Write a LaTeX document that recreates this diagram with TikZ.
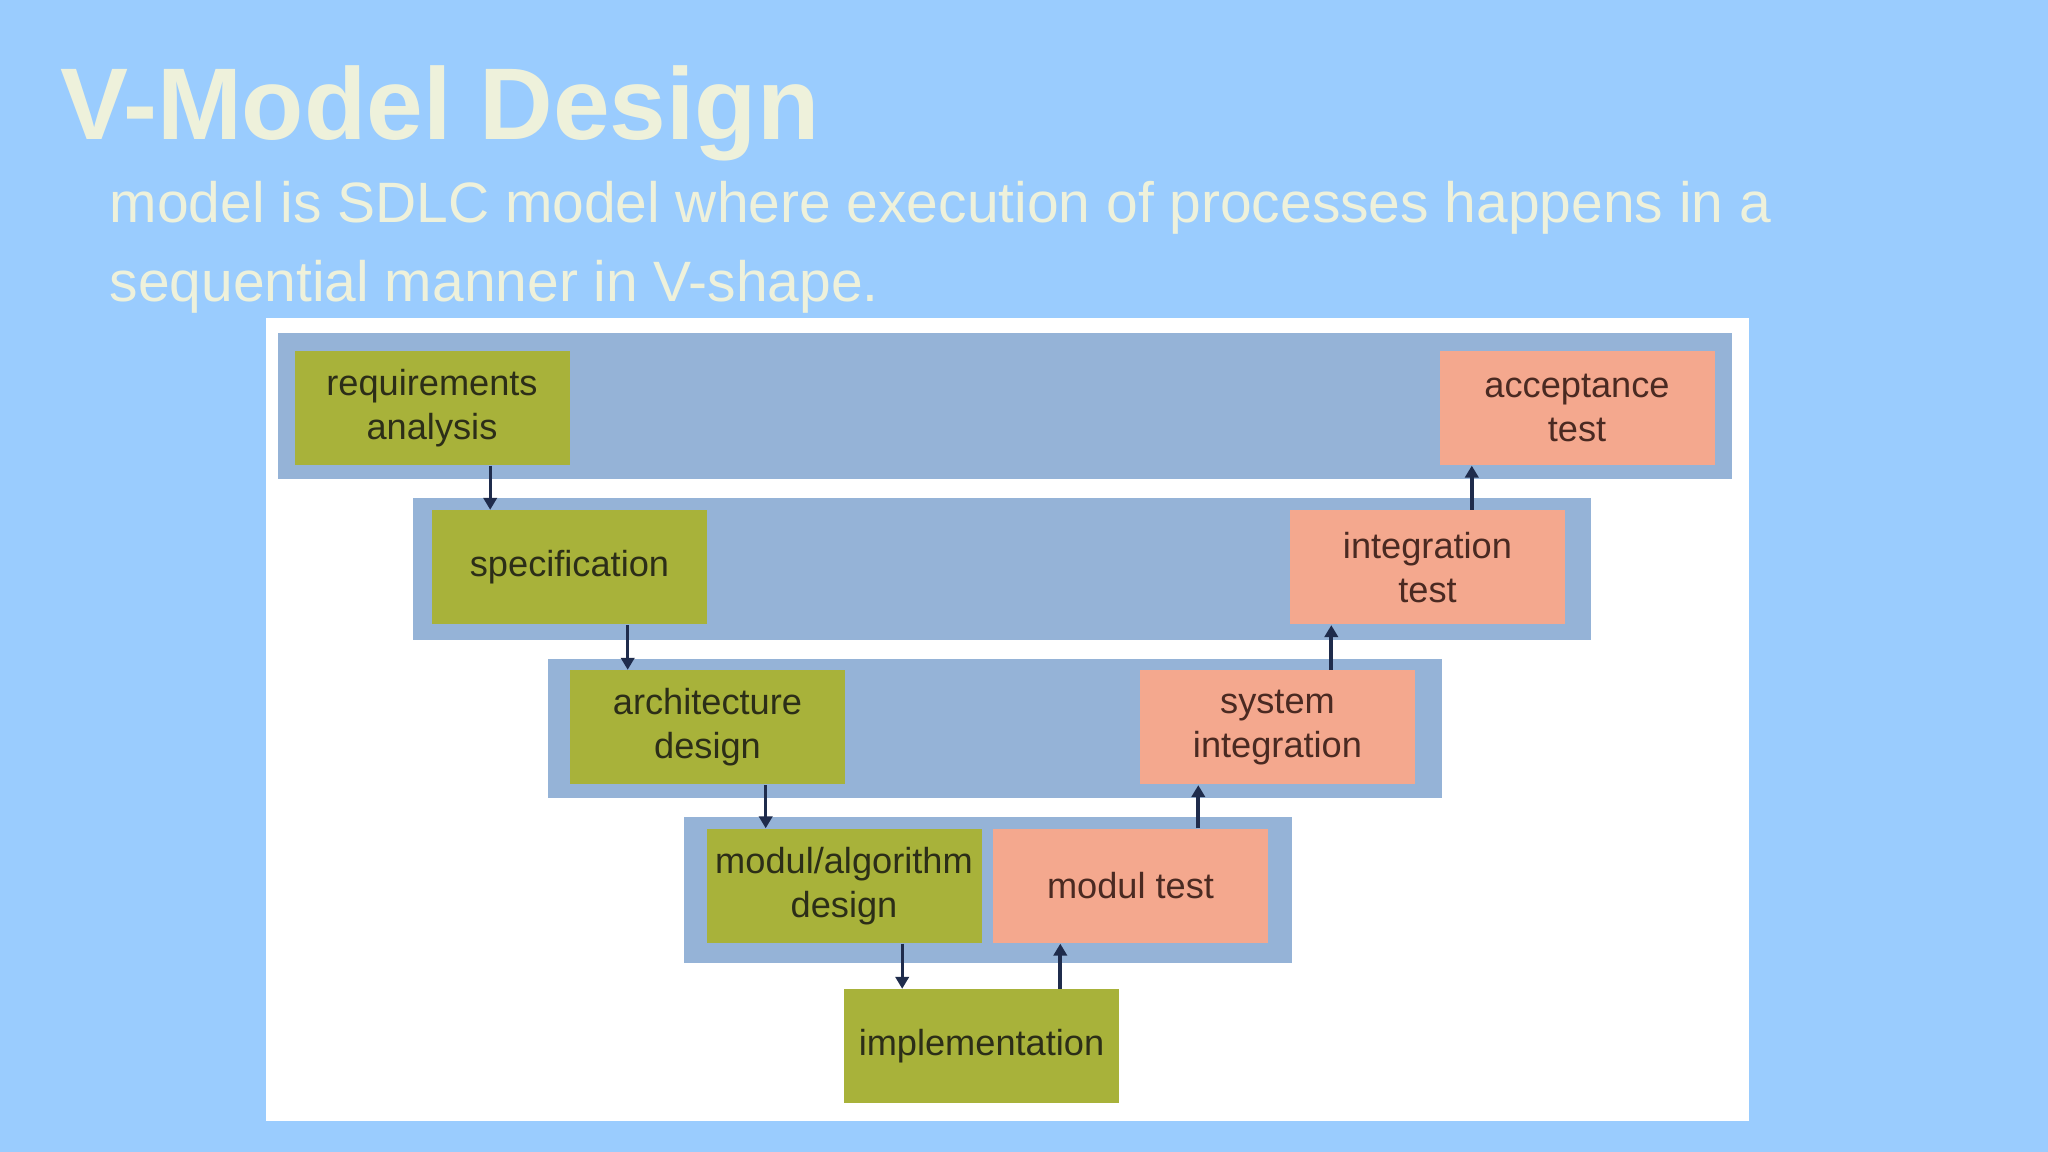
\documentclass[tikz,border=0pt]{standalone}
\usepackage{xcolor}
\usepackage{fontspec}
\setmainfont{Liberation Sans}
\usepackage{tikz}
\usetikzlibrary{positioning,calc,arrows.meta}

\definecolor{slidebg}{HTML}{9ACCFE}
\definecolor{titlecream}{HTML}{EEF1DB}
\definecolor{vband}{HTML}{95B3D7}
\definecolor{vgreen}{HTML}{A8B23A}
\definecolor{vsalmon}{HTML}{F4A88E}
\definecolor{greentext}{HTML}{2C2E18}
\definecolor{salmontext}{HTML}{4A2A22}
\definecolor{arrowblue}{HTML}{1F2C4C}

\begin{document}
\begin{tikzpicture}[
    box/.style={minimum width=2.75cm, minimum height=1.14cm, inner sep=0pt, align=center,
                font=\fontsize{10.3}{12.5}\selectfont},
    designbox/.style={box, fill=vgreen, text=greentext},
    testbox/.style={box, fill=vsalmon, text=salmontext},
    band/.style={fill=vband},
    downarr/.style={draw=arrowblue, line width=0.8pt, -{Triangle[length=3.4pt,width=3.8pt]}},
    uparr/.style={draw=arrowblue, line width=1.1pt, -{Triangle[length=3.4pt,width=3.8pt]}},
    slidetxt/.style={text=titlecream, inner sep=0pt, anchor=base west}
]
        \useasboundingbox (0,0) rectangle (20.48,11.52);
        \fill[slidebg] (0,0) rectangle (20.48,11.52);

        % Heading
        \node[slidetxt, font=\fontsize{29}{34}\selectfont\bfseries] (title) at (0.60,10.12) {V-Model Design};
        \node[slidetxt, font=\fontsize{16.2}{22}\selectfont] (sub1) at (1.09,9.29)
            {model is SDLC model where execution of processes happens in a};
        \node[slidetxt, font=\fontsize{16.2}{22}\selectfont] (sub2) at (1.09,8.50)
            {sequential manner in V-shape.};

        % Picture panel
        \fill[white] (2.66,0.31) rectangle (17.49,8.34);

        % Levels of the V
        \fill[band] (2.78,6.73) rectangle (17.32,8.19);
        \fill[band] (4.13,5.12) rectangle (15.91,6.54);
        \fill[band] (5.48,3.54) rectangle (14.42,4.93);
        \fill[band] (6.84,1.89) rectangle (12.92,3.35);

        % Left branch
        \node[designbox] (req)  at (4.32,7.44)  {requirements\\analysis};
        \node[designbox] (spec) at (5.695,5.845) {specification};
        \node[designbox] (arch) at (7.075,4.245) {architecture\\design};
        \node[designbox] (mdes) at (8.44,2.66)  {modul/algorithm\\design};
        \node[designbox] (impl) at (9.815,1.055) {implementation};

        % Right branch
        \node[testbox] (mtest) at (11.305,2.66)  {modul test};
        \node[testbox] (sint)  at (12.775,4.245) {system\\integration};
        \node[testbox] (itest) at (14.275,5.845) {integration\\test};
        \node[testbox] (acc)   at (15.77,7.44)   {acceptance\\test};

        % Going down
        \draw[downarr] ([xshift=-8mm]req.south east) -- ([xshift=-8mm]req.south east |- spec.north);
        \draw[downarr] ([xshift=-8mm]spec.south east) -- ([xshift=-8mm]spec.south east |- arch.north);
        \draw[downarr] ([xshift=-8mm]arch.south east) -- ([xshift=-8mm]arch.south east |- mdes.north);
        \draw[downarr] ([xshift=-8mm]mdes.south east) -- ([xshift=-8mm]mdes.south east |- impl.north);

        % Going up
        \draw[uparr] ([xshift=6.8mm]mtest.south west |- impl.north) -- ([xshift=6.8mm]mtest.south west);
        \draw[uparr] ([xshift=5.9mm]sint.south west |- mtest.north) -- ([xshift=5.9mm]sint.south west);
        \draw[uparr] ([xshift=4.2mm]itest.south west |- sint.north) -- ([xshift=4.2mm]itest.south west);
        \draw[uparr] ([xshift=3.3mm]acc.south west |- itest.north) -- ([xshift=3.3mm]acc.south west);
\end{tikzpicture}
\end{document}
